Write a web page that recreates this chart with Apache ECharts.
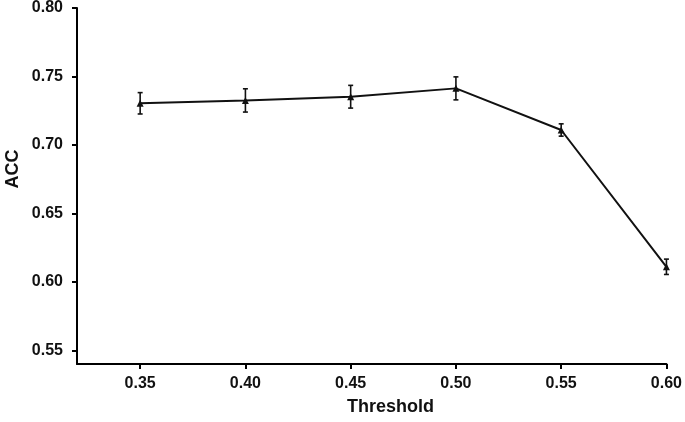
<!DOCTYPE html>
<html>
<head>
<meta charset="utf-8">
<script src="https://cdn.jsdelivr.net/npm/echarts@6/dist/echarts.min.js"></script>
<style>html,body{margin:0;padding:0;background:#fff;}#c{width:685px;height:422px;}</style>
</head>
<body>
<div id="c"></div>
<script>
const thresholds = [0.35, 0.40, 0.45, 0.50, 0.55, 0.60];
const accValues = [0.7304, 0.7325, 0.7352, 0.7413, 0.7109, 0.6110];
const accErrors = [0.0078, 0.0085, 0.0083, 0.0084, 0.0045, 0.0056];
const xTicks = [0.35, 0.40, 0.45, 0.50, 0.55, 0.60];
const yTicks = [0.55, 0.60, 0.65, 0.70, 0.75, 0.80];

const chart = echarts.init(document.getElementById('c'), null, {renderer: 'canvas'});
const font = '"Liberation Sans", Arial, sans-serif';
const lineData = thresholds.map((t, i) => [t, accValues[i]]);
const errData = thresholds.map((t, i) => [t, accValues[i] - accErrors[i], accValues[i] + accErrors[i]]);

chart.setOption({
  animation: false,
  backgroundColor: '#fff',
  grid: {left: 77, right: 18, top: 8, bottom: 58, containLabel: false},
  xAxis: {
    type: 'value', min: 0.32, max: 0.60,
    axisLine: {show: true, lineStyle: {color: '#000', width: 2}},
    axisTick: {show: true, length: 5, lineStyle: {color: '#000', width: 2}, customValues: xTicks},
    axisLabel: {customValues: xTicks, formatter: v => v.toFixed(2), color: '#111', fontSize: 16, fontWeight: 'bold', fontFamily: font, margin: 12},
    splitLine: {show: false}
  },
  yAxis: {
    type: 'value', min: 0.54, max: 0.80,
    axisLine: {show: true, lineStyle: {color: '#000', width: 2}},
    axisTick: {show: true, length: 5, lineStyle: {color: '#000', width: 2}, customValues: yTicks},
    axisLabel: {customValues: yTicks, formatter: v => v.toFixed(2), color: '#111', fontSize: 16, fontWeight: 'bold', fontFamily: font, margin: 14},
    splitLine: {show: false}
  },
  graphic: [
    {type: 'text', left: 392 - 45, top: 398, style: {text: 'Threshold', font: 'bold 18px ' + font, fill: '#111'}},
    {type: 'text', x: 4, y: 169, rotation: Math.PI / 2, style: {text: 'ACC', font: 'bold 18px ' + font, fill: '#111', align: 'center', verticalAlign: 'top'}}
  ],
  series: [
    {
      type: 'line', data: lineData,
      symbol: 'triangle', symbolSize: 7,
      lineStyle: {color: '#111', width: 2},
      itemStyle: {color: '#111'}
    },
    {
      type: 'custom', data: errData,
      renderItem: function (params, api) {
        const x = api.value(0);
        const lo = api.coord([x, api.value(1)]);
        const hi = api.coord([x, api.value(2)]);
        const cap = 2.5;
        const st = {stroke: '#111', lineWidth: 1.6};
        return {type: 'group', children: [
          {type: 'line', shape: {x1: lo[0], y1: lo[1], x2: hi[0], y2: hi[1]}, style: st},
          {type: 'line', shape: {x1: lo[0] - cap, y1: lo[1], x2: lo[0] + cap, y2: lo[1]}, style: st},
          {type: 'line', shape: {x1: hi[0] - cap, y1: hi[1], x2: hi[0] + cap, y2: hi[1]}, style: st}
        ]};
      },
      z: 3
    }
  ]
});
</script>
</body>
</html>
